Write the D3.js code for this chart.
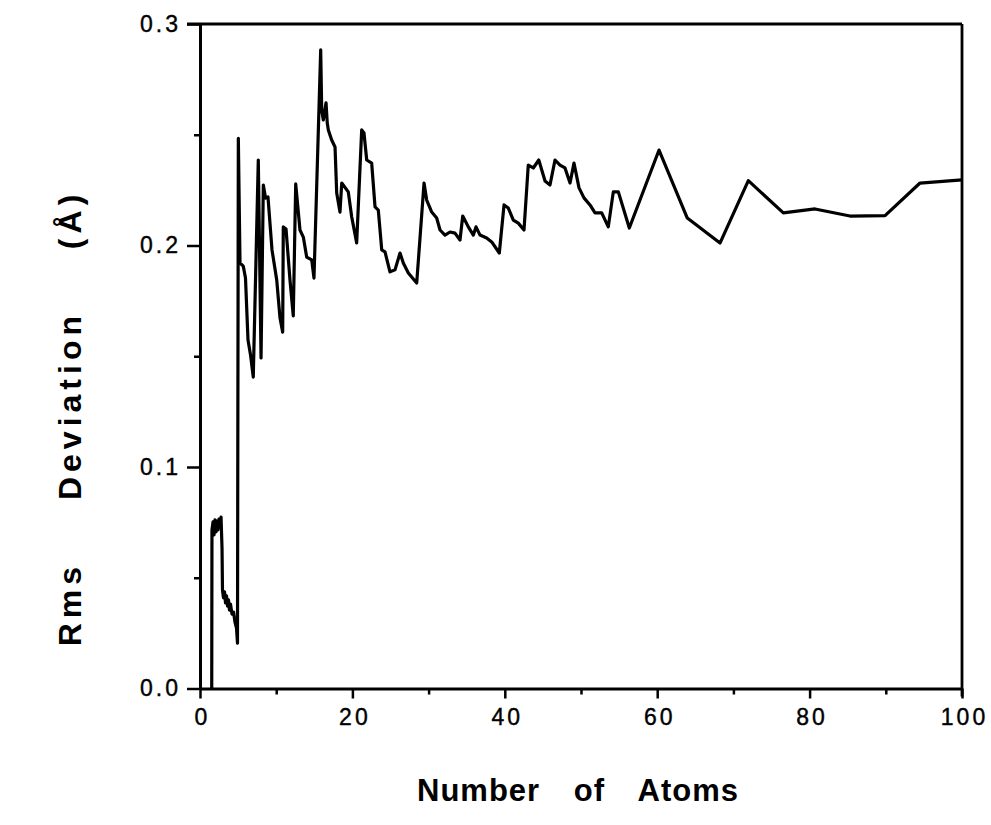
<!DOCTYPE html>
<html>
<head>
<meta charset="utf-8">
<script src="https://cdn.jsdelivr.net/npm/d3@7"></script>
<style>
  body { margin: 0; background: #fff; }
  svg { display: block; }
</style>
</head>
<body>
<svg width="991" height="825"></svg>
<script>
const width = 991, height = 825;
const svg = d3.select("svg");
const fontFamily = "'Liberation Sans', Arial, Helvetica, sans-serif";

// values
const atomCount = [1.54, 1.57, 1.71, 1.84, 1.97, 2.10, 2.23, 2.36, 2.49, 2.62, 2.76, 2.89, 2.95, 3.08, 3.22, 3.35, 3.48, 3.61, 3.74, 3.87, 4.00, 4.20, 4.40, 4.59, 4.79, 4.92,
  5.03, 5.25, 5.68, 5.97, 6.30, 6.63, 6.99, 7.65, 8.01, 8.31, 8.60, 8.92, 9.45, 10.07, 10.50, 10.85, 10.93, 11.29, 11.81, 12.24, 12.56, 13.12, 13.56, 14.00, 14.66, 14.96,
  15.84, 15.97, 16.18, 16.54, 16.70, 16.84, 17.28, 17.72, 17.94, 18.37, 18.60, 19.46, 19.91, 20.56, 21.22, 21.52, 21.88, 22.53, 22.97, 23.40, 23.85, 24.28, 24.93, 25.59,
  26.25, 26.68, 27.34, 28.44, 29.40, 29.75, 30.41, 31.06, 31.50, 32.15, 32.81, 33.46, 34.12, 34.48, 35.21, 35.87, 36.22, 36.75, 37.62, 38.28, 39.28, 39.90, 40.46, 41.12,
  41.77, 42.52, 43.08, 43.74, 44.46, 45.28, 45.93, 46.59, 47.24, 47.90, 48.56, 49.08, 49.74, 50.39, 51.18, 51.84, 52.72, 53.58, 54.24, 54.90, 56.34, 60.24, 63.95, 68.24,
  71.96, 76.55, 80.71, 85.30, 89.90, 94.49, 100.0];
const rmsDev = [0.000, 0.0716, 0.0752, 0.0693, 0.0761, 0.0707, 0.0756, 0.0716, 0.0765, 0.0729, 0.0774, 0.0634, 0.0445, 0.0409, 0.0436, 0.0386, 0.0418, 0.0372, 0.0400, 0.0354, 0.0381, 0.0336, 0.0345, 0.0300, 0.0273, 0.0205,
  0.2484, 0.1921, 0.1907, 0.1853, 0.1573, 0.1506, 0.1406, 0.2386, 0.1492, 0.2273, 0.2214, 0.2219, 0.1980, 0.1844, 0.1673, 0.1609, 0.2084, 0.2074, 0.1844, 0.1682, 0.2278, 0.2070, 0.2038, 0.1948, 0.1935, 0.1853,
  0.2883, 0.2612, 0.2567, 0.2644, 0.2553, 0.2522, 0.2476, 0.2445, 0.2237, 0.2151, 0.2282, 0.2242, 0.2129, 0.2012, 0.2522, 0.2508, 0.2386, 0.2372, 0.2174, 0.2160, 0.1980, 0.1971, 0.1881, 0.1890,
  0.1966, 0.1921, 0.1876, 0.1831, 0.2282, 0.2205, 0.2151, 0.2124, 0.2070, 0.2047, 0.2061, 0.2056, 0.2025, 0.2133, 0.2084, 0.2047, 0.2084, 0.2047, 0.2034, 0.2016, 0.1966, 0.2183, 0.2169, 0.2115,
  0.2101, 0.2070, 0.2363, 0.2350, 0.2386, 0.2291, 0.2273, 0.2386, 0.2363, 0.2350, 0.2282, 0.2372, 0.2260, 0.2215, 0.2183, 0.2147, 0.2147, 0.2084, 0.2242, 0.2242, 0.2079, 0.2431, 0.2124, 0.2011,
  0.2293, 0.2147, 0.2165, 0.2133, 0.2135, 0.2282, 0.2296];

const xMajor = [0, 20, 40, 60, 80, 100];
const xMinor = [10, 30, 50, 70, 90];
const yMajor = [0, 0.1, 0.2, 0.3];
const yMinor = [0.05, 0.15, 0.25];

const margin = {left: 200, right: 29, top: 24, bottom: 136.5};

const x = d3.scaleLinear().domain([0, 100]).range([margin.left, width - margin.right]);
const y = d3.scaleLinear().domain([0, 0.3]).range([height - margin.bottom, margin.top]);

// frame: top and right lines
svg.append("line")
    .attr("x1", x(0) - 13).attr("x2", x(100))
    .attr("y1", y(0.3)).attr("y2", y(0.3))
    .attr("stroke", "#000").attr("stroke-width", 2.8);
svg.append("line")
    .attr("x1", x(100)).attr("x2", x(100))
    .attr("y1", y(0.3)).attr("y2", y(0) + 8)
    .attr("stroke", "#000").attr("stroke-width", 2.8);

// minor ticks
svg.append("g")
    .attr("transform", `translate(0,${y(0)})`)
    .call(d3.axisBottom(x).tickValues(xMinor).tickSize(6).tickFormat(""))
    .call(g => g.select(".domain").remove())
    .selectAll("line").attr("stroke-width", 2.5);
svg.append("g")
    .attr("transform", `translate(${x(0)},0)`)
    .call(d3.axisLeft(y).tickValues(yMinor).tickSize(6).tickFormat(""))
    .call(g => g.select(".domain").remove())
    .selectAll("line").attr("stroke-width", 2.5);

// major axes
const xAxis = svg.append("g")
    .attr("transform", `translate(0,${y(0)})`)
    .call(d3.axisBottom(x).tickValues(xMajor).tickSize(10).tickSizeOuter(0).tickPadding(10).tickFormat(d3.format("d")));
const yAxis = svg.append("g")
    .attr("transform", `translate(${x(0)},0)`)
    .call(d3.axisLeft(y).tickValues(yMajor).tickSize(13).tickSizeOuter(0).tickPadding(6).tickFormat(d3.format(".1f")));

[xAxis, yAxis].forEach(g => {
    g.select(".domain").attr("stroke-width", 3);
    g.selectAll(".tick line").attr("stroke-width", 2.5);
    g.selectAll(".tick text")
        .attr("font-family", fontFamily)
        .attr("font-size", 23)
        .attr("letter-spacing", "3px")
        .attr("fill", "#000")
        .attr("stroke", "#000")
        .attr("stroke-width", 0.4);
});
xAxis.selectAll(".tick text").attr("dx", "2px");

// data line
const line = d3.line()
    .x((d, i) => x(atomCount[i]))
    .y(d => y(d));

svg.append("path")
    .datum(rmsDev)
    .attr("fill", "none")
    .attr("stroke", "#000")
    .attr("stroke-width", 3.2)
    .attr("stroke-linejoin", "round")
    .attr("d", line);

// axis titles
svg.append("text")
    .attr("x", 578).attr("y", 801)
    .attr("text-anchor", "middle")
    .attr("font-family", fontFamily)
    .attr("font-weight", "bold")
    .attr("font-size", 31)
    .attr("letter-spacing", "1px")
    .attr("word-spacing", "24px")
    .text("Number of Atoms");

svg.append("text")
    .attr("transform", `translate(81,${418}) rotate(-90)`)
    .attr("text-anchor", "middle")
    .attr("font-family", fontFamily)
    .attr("font-weight", "bold")
    .attr("font-size", 32)
    .attr("letter-spacing", "5px")
    .attr("word-spacing", "48px")
    .text("Rms Deviation (Å)");
</script>
</body>
</html>
